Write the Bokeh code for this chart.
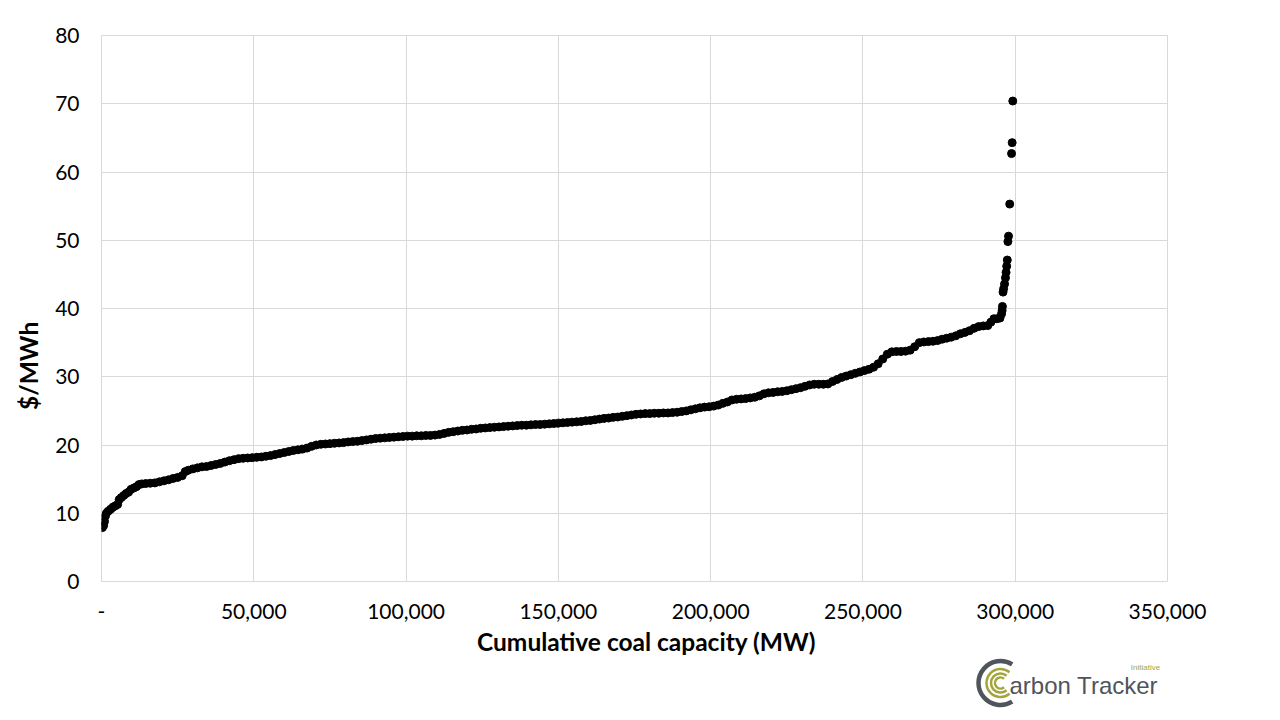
import math
from bokeh.plotting import figure
from bokeh.models import (FixedTicker, NumeralTickFormatter, Range1d,
                          ColumnDataSource)
from bokeh.layouts import column, row
from bokeh.core.properties import value
from bokeh.embed import file_html
from bokeh.resources import INLINE

# ---------------- data ----------------
# cumulative capacity in thousand MW
cum_capacity_k = [
    0.3, 0.7, 1.0, 1.3, 1.6, 2.2, 3.0, 3.8, 4.6, 5.3,
    5.8, 6.5, 7.3, 8.1, 8.9, 9.7, 10.6, 11.5, 12.3, 13.2,
    14.5, 16, 17.5, 19, 20.5, 22, 23.5, 25, 26.5, 27.5,
    28.5, 30, 31.5, 33, 34.5, 36, 37.5, 39, 40.5, 42,
    43.5, 45, 46.5, 48, 49.5, 51, 52.5, 54, 55.5, 57,
    58.5, 60, 61.5, 63, 64.5, 66, 67.5, 69, 70.5, 72,
    73.5, 75, 76.5, 78, 79.5, 81, 82.5, 84, 85.5, 87,
    88.5, 90, 91.5, 93, 94.5, 96, 97.5, 99, 100.5, 102,
    103.5, 105, 106.5, 108, 109.5, 111, 112.5, 114, 115.5, 117,
    118.5, 120, 121.5, 123, 124.5, 126, 127.5, 129, 130.5, 132,
    133.5, 135, 136.5, 138, 139.5, 141, 142.5, 144, 145.5, 147,
    148.5, 150, 151.5, 153, 154.5, 156, 157.5, 159, 160.5, 162,
    163.5, 165, 166.5, 168, 169.5, 171, 172.5, 174, 175.5, 177,
    178.5, 180, 181.5, 183, 184.5, 186, 187.5, 189, 190.5, 192,
    193.5, 195, 196.5, 198, 199.5, 201, 202.5, 204, 205.5, 207,
    208.5, 210, 211.5, 213, 214.5, 216, 217.5, 219, 220.5, 222,
    223.5, 225, 226.5, 228, 229.5, 231, 232.5, 234, 235.5, 237,
    238.5, 240, 241.5, 243, 244.5, 246, 247.5, 249, 250.5, 252,
    253.5, 255, 256.5, 258, 259.5, 261, 262.5, 264, 265.5, 267,
    268.5, 270, 271.5, 273, 274.5, 276, 277.5, 279, 280.5, 282,
    283.5, 285, 286.5, 288, 289.5, 291, 292, 293, 294, 295,
    295.5, 295.7, 295.8, 296.0, 296.2, 296.5, 296.8, 297.0, 297.2, 297.4,
    297.6, 297.8, 298.2, 298.8, 299.0, 299.2,
]
# short-run marginal cost, $/MWh
cost_usd_mwh = [
    7.9, 8.2, 8.8, 9.6, 10.0, 10.3, 10.6, 10.9, 11.1, 11.3,
    12.0, 12.3, 12.6, 12.9, 13.1, 13.5, 13.7, 13.9, 14.2, 14.3,
    14.35, 14.4, 14.45, 14.6, 14.75, 14.9, 15.1, 15.25, 15.5, 16.1,
    16.3, 16.5, 16.65, 16.8, 16.85, 17.0, 17.15, 17.3, 17.5, 17.7,
    17.85, 18.0, 18.05, 18.1, 18.15, 18.2, 18.25, 18.35, 18.45, 18.6,
    18.75, 18.9, 19.05, 19.2, 19.3, 19.4, 19.55, 19.8, 20.0, 20.1,
    20.15, 20.2, 20.25, 20.3, 20.35, 20.45, 20.5, 20.55, 20.65, 20.75,
    20.85, 20.95, 21.0, 21.05, 21.1, 21.15, 21.2, 21.25, 21.3, 21.3,
    21.35, 21.35, 21.4, 21.4, 21.45, 21.55, 21.7, 21.85, 21.95, 22.05,
    22.15, 22.2, 22.3, 22.35, 22.45, 22.5, 22.55, 22.6, 22.65, 22.7,
    22.75, 22.8, 22.85, 22.9, 22.9, 22.95, 23.0, 23.0, 23.05, 23.1,
    23.15, 23.2, 23.25, 23.3, 23.35, 23.4, 23.45, 23.55, 23.6, 23.7,
    23.8, 23.9, 23.95, 24.05, 24.1, 24.2, 24.3, 24.4, 24.5, 24.55,
    24.6, 24.6, 24.65, 24.65, 24.7, 24.7, 24.75, 24.8, 24.9, 25.0,
    25.15, 25.3, 25.45, 25.55, 25.6, 25.7, 25.85, 26.1, 26.3, 26.6,
    26.7, 26.75, 26.8, 26.9, 27.0, 27.2, 27.5, 27.65, 27.7, 27.8,
    27.85, 27.95, 28.1, 28.25, 28.4, 28.6, 28.8, 28.9, 28.9, 28.9,
    28.95, 29.3, 29.6, 29.9, 30.1, 30.3, 30.5, 30.7, 30.9, 31.1,
    31.4, 31.9, 32.6, 33.3, 33.65, 33.7, 33.7, 33.75, 33.9, 34.4,
    35.0, 35.1, 35.15, 35.2, 35.3, 35.5, 35.65, 35.8, 36.0, 36.3,
    36.5, 36.75, 37.1, 37.35, 37.45, 37.5, 38.0, 38.5, 38.5, 38.6,
    39.2, 39.7, 40.3, 42.4, 42.9, 43.6, 44.5, 45.3, 46.2, 47.1,
    49.8, 50.6, 55.3, 62.7, 64.3, 70.4,
]
x_ticks = [0, 50000, 100000, 150000, 200000, 250000, 300000, 350000]
y_ticks = [0, 10, 20, 30, 40, 50, 60, 70, 80]
x_title = "Cumulative coal capacity (MW)"
y_title = "$/MWh"

cum_capacity_mw = [v * 1000 for v in cum_capacity_k]
src = ColumnDataSource(dict(x=cum_capacity_mw, y=cost_usd_mwh))

FONT = "Lato"
GRID = "#d9d9d9"
MAIN_H = 628
LEFT_W = 50
TOTAL_W = 1272
BOTTOM_H = 84

p = figure(width=TOTAL_W - LEFT_W, height=MAIN_H, output_backend="svg",
           toolbar_location=None,
           x_range=Range1d(0, 350000), y_range=Range1d(0, 80),
           min_border_left=101 - LEFT_W, min_border_right=105, min_border_top=35,
           min_border_bottom=47)
p.outline_line_color = GRID
p.background_fill_color = "white"
p.border_fill_color = "white"

p.scatter("x", "y", source=src, size=8, color="black")

p.xaxis.ticker = FixedTicker(ticks=x_ticks)
p.yaxis.ticker = FixedTicker(ticks=y_ticks)
p.xaxis.formatter = NumeralTickFormatter(format="0,0")
p.xaxis.major_label_overrides = {0: "-"}
for ax in (p.xaxis, p.yaxis):
    ax.axis_line_color = None
    ax.major_tick_line_color = None
    ax.minor_tick_line_color = None
    ax.major_tick_out = 0
    ax.major_tick_in = 0
    ax.major_label_text_font = FONT
    ax.major_label_text_font_size = "21px"
    ax.major_label_text_color = "black"
p.xaxis.major_label_standoff = 22
p.yaxis.major_label_standoff = 22

p.xgrid.grid_line_color = GRID
p.ygrid.grid_line_color = GRID

# ---------------- y-axis title (narrow canvas at the left) ----------------
ylab = figure(width=LEFT_W, height=MAIN_H, output_backend="svg", toolbar_location=None,
              x_range=Range1d(0, LEFT_W), y_range=Range1d(0, MAIN_H),
              x_axis_type=None, y_axis_type=None, min_border=0)
ylab.outline_line_color = None
ylab.grid.visible = False
ylab.text(x=[28], y=[248], text=[y_title], angle=math.pi / 2,
          text_align="center", text_baseline="middle",
          text_font=value(FONT), text_font_style="bold",
          text_font_size="24.5px", text_color="black")

# ---------------- x-axis title and logo (canvas at the bottom) ----------------
DARK = "#50555b"
OLIVE = "#a3a53c"
bottom = figure(width=TOTAL_W, height=BOTTOM_H, output_backend="svg",
                toolbar_location=None,
                x_range=Range1d(0, TOTAL_W), y_range=Range1d(0, BOTTOM_H),
                x_axis_type=None, y_axis_type=None, min_border=0)
bottom.outline_line_color = None
bottom.grid.visible = False
bottom.text(x=[646], y=[71], text=[x_title], text_font=value(FONT),
            text_font_style="bold", text_font_size="24.5px", text_color="black",
            text_align="center", text_baseline="middle")
bottom.arc(x=[1000], y=[29.5], radius=22, start_angle=math.radians(58),
           end_angle=math.radians(302), line_color=DARK, line_width=4.5)
bottom.arc(x=[1000, 1000, 1000], y=[29.5, 29.5, 29.5], radius=[14, 9.5, 5.5],
           start_angle=math.radians(50), end_angle=math.radians(310),
           line_color=OLIVE, line_width=2.5)
bottom.text(x=[1009], y=[27], text=["arbon Tracker"],
            text_font=value("Liberation Sans"), text_font_size="24px",
            text_color=DARK, text_baseline="alphabetic")
bottom.text(x=[1145], y=[45], text=["Initiative"],
            text_font=value("Liberation Sans"), text_font_size="8px",
            text_color=OLIVE, text_align="center", text_baseline="middle")

layout = column(row(ylab, p), bottom)
open("out.html", "w").write(file_html(layout, INLINE))
